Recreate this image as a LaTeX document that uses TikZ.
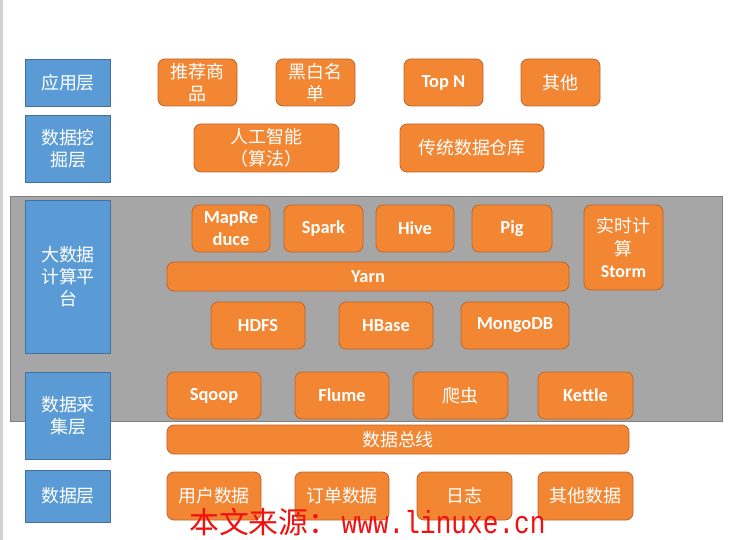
\documentclass[tikz,border=0pt]{standalone}
\usepackage{fontspec}
\newfontfamily\cjk{Noto Sans CJK SC}
\newfontfamily\lat{Carlito}
\newfontfamily\mono{Liberation Mono}[FakeStretch=0.82]
\definecolor{blueF}{HTML}{5B9BD5}
\definecolor{blueB}{HTML}{41719C}
\definecolor{orF}{HTML}{F28633}
\definecolor{orB}{HTML}{C0652A}
\definecolor{grayF}{HTML}{A6A6A6}
\definecolor{grayB}{HTML}{7F7F7F}
\definecolor{wm}{HTML}{F01010}
\tikzset{
  bluebox/.style={draw=blueB, fill=blueF, line width=0.8bp, inner sep=0pt, text=white, align=center,
    font=\cjk\fontsize{18}{22}\selectfont},
  orbox/.style={draw=orB, fill=orF, rounded corners=7bp, line width=0.8bp, inner sep=0pt, text=white, align=center},
  cjkt/.style={font=\cjk\fontsize{18}{22.5}\selectfont},
  latt/.style={font=\lat\fontsize{18.5}{22}\selectfont\bfseries},
}
\begin{document}
\begin{tikzpicture}[x=1bp,y=-1bp]
\useasboundingbox (0,0) rectangle (738,540);
\fill[white] (0,0) rectangle (738,540);
\draw[black!18, line width=2.5bp] (1.5,0) -- (1.5,540);
% gray platform area
\node[draw=grayB, fill=grayF, line width=1bp, inner sep=0pt, minimum width=711bp, minimum height=224bp] (plat) at (366.5,309) {};
% layer labels
\node[bluebox, minimum width=85bp, minimum height=47bp] (app) at (68,82.5) {应用层};
\node[bluebox, minimum width=85bp, minimum height=67bp] (mine) at (68,148.5) {数据挖\\掘层};
\node[bluebox, minimum width=85bp, minimum height=153bp] (comp) at (68,276.5) {大数据\\计算平\\台};
\node[bluebox, minimum width=85bp, minimum height=87bp] (coll) at (68,415.5) {数据采\\集层};
\node[bluebox, minimum width=85bp, minimum height=52bp] (data) at (68,496) {数据层};
% application layer
\node[orbox, cjkt, minimum width=79bp, minimum height=47bp] (rec) at (197.5,82.5) {推荐商\\品};
\node[orbox, cjkt, minimum width=79bp, minimum height=47bp] (bw) at (315.5,82.5) {黑白名\\单};
\node[orbox, latt, minimum width=79bp, minimum height=47bp] (topn) at (443.5,82.5) {Top N};
\node[orbox, cjkt, minimum width=79bp, minimum height=47bp] (oth) at (560.5,82.5) {其他};
% mining layer
\node[orbox, cjkt, minimum width=145bp, minimum height=48bp] (ai) at (266.5,148) {人工智能\\（算法）};
\node[orbox, cjkt, minimum width=144bp, minimum height=48bp] (dw) at (472,148) {传统数据仓库};
% computing platform
\node[orbox, latt, minimum width=78bp, minimum height=47bp] (mr) at (231,228.5) {MapRe\\duce};
\node[orbox, latt, minimum width=79bp, minimum height=47bp] (spark) at (323.5,228.5) {Spark};
\node[orbox, latt, minimum width=78bp, minimum height=47bp] (hive) at (415,228.5) {Hive};
\node[orbox, latt, minimum width=80bp, minimum height=47bp] (pig) at (512,228.5) {Pig};
\node[orbox, cjkt, minimum width=79bp, minimum height=85bp] (storm) at (623.5,247.5) {实时计\\算\\{\lat\bfseries Storm}};
\node[orbox, latt, minimum width=402bp, minimum height=29bp] (yarn) at (368,276.5) {Yarn};
\node[orbox, latt, minimum width=94bp, minimum height=47bp] (hdfs) at (258,325.5) {HDFS};
\node[orbox, latt, minimum width=94bp, minimum height=47bp] (hbase) at (386,325.5) {HBase};
\node[orbox, latt, minimum width=108bp, minimum height=47bp] (mongo) at (515,325.5) {MongoDB};
% collection layer
\node[orbox, latt, minimum width=94bp, minimum height=47bp] (sqoop) at (214,395.5) {Sqoop};
\node[orbox, latt, minimum width=94bp, minimum height=47bp] (flume) at (342,395.5) {Flume};
\node[orbox, cjkt, minimum width=95bp, minimum height=47bp] (crawl) at (460.5,395.5) {爬虫};
\node[orbox, latt, minimum width=95bp, minimum height=47bp] (kettle) at (585.5,395.5) {Kettle};
\node[orbox, cjkt, minimum width=462bp, minimum height=29bp] (bus) at (398,439.5) {数据总线};
% data layer
\node[orbox, cjkt, minimum width=94bp, minimum height=48bp] (user) at (214,496) {用户数据};
\node[orbox, cjkt, minimum width=94bp, minimum height=48bp] (order) at (342,496) {订单数据};
\node[orbox, cjkt, minimum width=95bp, minimum height=48bp] (log) at (464.5,496) {日志};
\node[orbox, cjkt, minimum width=95bp, minimum height=48bp] (odata) at (585.5,496) {其他数据};
% watermark
\node[anchor=base west, inner sep=0pt, text=wm] (wmark) at (189,533)
  {{\cjk\fontsize{30}{33}\selectfont 本文来源：}\hspace{3bp}{\mono\fontsize{32}{34}\selectfont www.linuxe.cn}};
\end{tikzpicture}
\end{document}
